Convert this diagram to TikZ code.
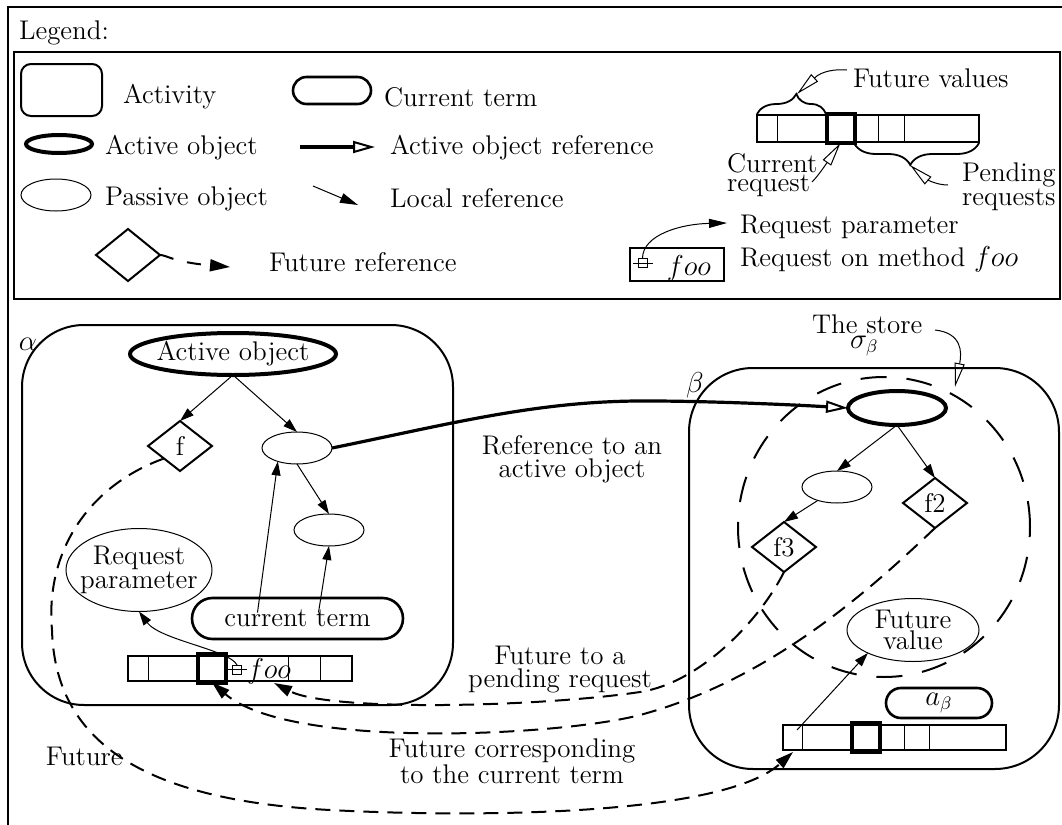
\documentclass[tikz,border=0pt]{standalone}
\usetikzlibrary{shapes.geometric,shapes.misc,arrows.meta,calc,decorations.pathreplacing}
\begin{document}
\begin{tikzpicture}[x=0.5pt,y=-0.5pt,
  font=\fontsize{13.5}{16}\selectfont,
  every node/.style={inner sep=0pt,outer sep=0pt},
  thinln/.style={line width=0.5pt},
  actbox/.style={draw,line width=1pt,rectangle,rounded corners=#1},
  actobj/.style={draw,ellipse,line width=2pt},
  pasobj/.style={draw,ellipse,line width=0.5pt,minimum width=35pt,minimum height=16pt},
  futobj/.style={draw,diamond,line width=1pt,minimum width=32pt,minimum height=25pt},
  curterm/.style={draw,rounded rectangle,line width=1.3pt},
  queuebar/.style={draw,rectangle,line width=1pt},
  curreq/.style={draw,rectangle,line width=2pt,minimum width=14pt,minimum height=14.5pt},
  smallsq/.style={draw,rectangle,line width=0.5pt,minimum width=4.5pt,minimum height=4.5pt},
  lref/.style={line width=0.5pt,-{Triangle[length=7pt,width=4.5pt]}},
  fref/.style={line width=1pt,dash pattern=on 7.5pt off 4.5pt,-{Triangle[length=9pt,width=5.5pt]}},
  aref/.style={line width=1.6pt,-{Triangle[open,length=11pt,width=6pt,line width=1pt]}},
  callout/.style={line width=0.5pt,-{Triangle[open,length=12pt,width=5pt,line width=0.5pt]}},
  bracestyle/.style={line width=0.9pt,decorate},
  two/.style={align=center,font=\fontsize{13.5}{11.5}\selectfont},
  tight/.style={align=center,font=\fontsize{13.5}{8.5}\selectfont},
  tighter/.style={align=left,font=\fontsize{13.5}{7.2}\selectfont},
]
\useasboundingbox (0,0) rectangle (1062,825);
\fill[white] (0,0) rectangle (1062,825);
% outer frame
\draw[line width=1pt] (8,825) -- (8,7) -- (1062,7);
\node[anchor=base west] (legendt) at (19,39) {Legend:};
\draw[line width=1pt] (14,52) rectangle (1060,299);

% ---------- legend, left part
\node[actbox=5pt, minimum width=40.5pt, minimum height=26pt] (lact) at (61.5,90) {};
\node[anchor=base west] (lactt) at (123,103) {Activity};
\node[curterm, minimum width=39pt, minimum height=13.5pt] (lct) at (332,90.5) {};
\node[anchor=base west] (lctt) at (384,106) {Current term};
\node[actobj, minimum width=33pt, minimum height=9pt] (lao) at (59,144) {};
\node[anchor=base west] (laot) at (105,154) {Active object};
\coordinate (larS) at (300,147);
\coordinate (larE) at (375,147);
\draw[aref] (larS) -- (larE);
\node[anchor=base west] (lart) at (390,154) {Active object reference};
\node[pasobj] (lpo) at (56,195) {};
\node[anchor=base west] (lpot) at (105,205) {Passive object};
\coordinate (llrS) at (313,186);
\coordinate (llrE) at (358,205);
\draw[lref,-{Triangle[length=9pt,width=5pt]}] (llrS) -- (llrE);
\node[anchor=base west] (llrt) at (390,207) {Local reference};
\node[futobj, minimum height=26pt] (lfut) at (128,255) {};
\coordinate (lfrE) at (230,267);
\draw[fref, dash pattern=on 7pt off 7pt, -{Triangle[length=10pt,width=6pt]}] (lfut.east) .. controls (167,255) and (172,262) .. (lfrE);
\node[anchor=base west] (lfrt) at (269,271) {Future reference};

% ---------- legend, right part
\node[queuebar, minimum width=111pt, minimum height=13.5pt] (lq) at (868,128.5) {};
\draw[thinln] (777,115) -- (777,142);
\draw[thinln] (878,115) -- (878,142);
\draw[thinln] (904,115) -- (904,142);
\node[curreq] (lqc) at (840.5,128.5) {};
\draw[bracestyle, decoration={brace, amplitude=10pt, aspect=0.57}] (757,114) -- (826,114);
\draw[bracestyle, decoration={brace, amplitude=11pt, aspect=0.55}] (979,143) -- (854,143);
\coordinate (ubt) at (797,94);
\coordinate (lbt) at (910,165);
\node[anchor=base west] (lfv) at (853,87) {Future values};
\coordinate (lfvS) at (847,70);
\draw[callout] (lfvS) .. controls (835,69) and (822,71) .. (ubt);
\node[tighter, anchor=west] (lcr) at (727,175.5) {Current\\request};
\coordinate (lcrS) at (812,182);
\draw[callout] (lcrS) .. controls (818,176) and (824,167) .. (lqc.south);
\node[tight, align=left, anchor=west] (lpr) at (962,187) {Pending\\requests};
\coordinate (lprS) at (948,185);
\draw[callout] (lprS) .. controls (935,185) and (925,178) .. (lbt);

\node[draw, line width=1.2pt, minimum width=47pt, minimum height=16.5pt] (lfoo) at (677,264.5) {};
\node[smallsq] (lsq) at (642.5,262.5) {};
\draw[thinln] (633,263) -- (653,263);
\node[anchor=base] (lfoot) at (689,275) {$foo$};
\coordinate (lrpE) at (727,223);
\draw[lref,-{Triangle[length=9pt,width=4.5pt]}] (lsq.north) .. controls (643,235) and (680,224) .. (lrpE);
\node[anchor=base west] (lrpt) at (740,233) {Request parameter};
\node[anchor=base west] (lrmt) at (740,266) {Request on method $foo$};

% ---------- activity alpha
\node[actbox=31pt, minimum width=215.5pt, minimum height=190pt] (alpha) at (237.5,515) {};
\node (alphat) at (28,344) {$\alpha$};
\node[actobj, minimum width=103pt, minimum height=21pt, label=center:{Active object}] (aao) at (233,354) {};
\node[futobj] (af) at (180,446) {f};
\node[pasobj] (ap1) at (297,448) {};
\node[pasobj] (ap2) at (329,530) {};
\node[pasobj, minimum width=73pt, minimum height=41.5pt, label={[tight]center:{Request\\parameter}}] (arp) at (139,570) {};
\node[curterm, minimum width=105.5pt, minimum height=20.5pt] (act) at (297.5,618.5) {current term};
\node[queuebar, minimum width=112pt, minimum height=12.5pt] (aq) at (240,668.5) {};
\draw[thinln] (148,656) -- (148,681);
\draw[thinln] (288,656) -- (288,681);
\draw[thinln] (320,656) -- (320,681);
\node[curreq] (aqc) at (212,668) {};
\node[smallsq] (asq) at (237,669.5) {};
\draw[thinln] (227,669.5) -- (247,669.5);
\node[anchor=base west] (afoo) at (247,678) {$foo$};
\coordinate (fooT) at (274,683);

\draw[lref] (aao.south) -- (af.north);
\draw[lref] (aao.south) -- (ap1.north);
\draw[lref] (ap1.south) -- (ap2.north);
\coordinate (ctA) at ($(act.center)+(-40,-6)$);
\coordinate (ctB) at ($(act.center)+(21,-6)$);
\draw[lref] (ctA) -- (ap1.215);
\draw[lref] (ctB) -- (ap2.south);
\draw[lref] (asq.north) .. controls (230,650) and (160,640) .. (arp.south);

% ---------- activity beta
\node[actbox=32pt, minimum width=185pt, minimum height=200.5pt] (beta) at (874,568.5) {};
\node (betat) at (695,385) {$\beta$};
\node[draw, ellipse, line width=1pt, dash pattern=on 13pt off 10pt, minimum width=146pt, minimum height=150pt] (store) at (884,527) {};
\node[anchor=base west] (storet) at (812,333) {The store};
\node[anchor=base west] (sigmat) at (850,348) {$\sigma_\beta$};
\coordinate (stS) at (935,330);
\coordinate (stE) at (955,387);
\draw[callout] (stS) .. controls (962,333) and (962,352) .. (stE);

\node[actobj, minimum width=49pt, minimum height=17pt] (bao) at (897,408) {};
\node[pasobj] (bp) at (837,487) {};
\node[futobj] (bf2) at (935,503) {f2};
\node[futobj] (bf3) at (784,547) {f3};
\node[pasobj, minimum width=66pt, minimum height=31.5pt, label={[tight,font=\fontsize{13.5}{9.5}\selectfont]center:{Future\\value}}] (bfv) at (913,630) {};
\node[curterm, minimum width=53pt, minimum height=15pt] (bat) at (939,703) {$a_\beta$};
\node[queuebar, minimum width=111.5pt, minimum height=12.5pt] (bq) at (894.5,737.5) {};
\draw[thinln] (802,725) -- (802,750);
\draw[thinln] (904,725) -- (904,750);
\draw[thinln] (929,725) -- (929,750);
\node[curreq] (bqc) at (866,737.5) {};

\draw[lref] (bao.south) -- (bp.north);
\draw[lref] (bao.south) -- (bf2.north);
\draw[lref] (bp.215) -- (bf3.north);
\coordinate (bqS) at ($(bq.north west)+(14,5)$);
\draw[lref] (bqS) -- (bfv.207);

% ---------- inter-activity connectors
\draw[aref] (ap1.east) .. controls (450,424) and (540,400) .. (650,401) .. controls (700,401) and (780,404) .. (bao.west);
\coordinate (bqT) at ($(bq.south west)+(10,2)$);
\draw[fref] (af.south west) .. controls (90,485) and (45,550) .. (52,630) .. controls (55,740) and (140,800) .. (330,810) .. controls (460,817) and (720,818) .. (bqT);
\draw[fref] (bf3.south) .. controls (760,620) and (700,683) .. (640,692) .. controls (540,707) and (330,712) .. (fooT);
\draw[fref] (bf2.south) .. controls (870,590) and (770,680) .. (640,715) .. controls (560,736) and (290,750) .. (aqc.south);

\node[two] (reft) at (572,459) {Reference to an\\active object};
\node[two] (pendt) at (560,669.5) {Future to a\\pending request};
\node[two] (curt) at (512,761) {Future corresponding\\to the current term};
\node[anchor=base west] (futt) at (46,765) {Future};
\end{tikzpicture}
\end{document}
